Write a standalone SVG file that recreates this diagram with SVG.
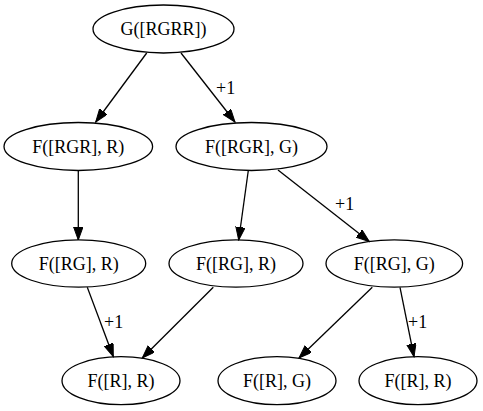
<svg xmlns="http://www.w3.org/2000/svg" width="483" height="411" viewBox="0 0 483 411">
<style>
.n ellipse{fill:none;stroke:#000;stroke-width:1.3}
text{font-family:"Liberation Serif","Times New Roman",serif;font-size:18px;fill:#000}
.n text{text-anchor:middle}
.e line{stroke:#000;stroke-width:1.3;marker-end:url(#a)}
</style>
<defs>
<marker id="a" markerUnits="userSpaceOnUse" markerWidth="14" markerHeight="10" refX="13" refY="4.7" orient="auto">
<path d="M0,0 L13,4.7 L0,9.4 Z" fill="#000" stroke="#000" stroke-width="1"/>
</marker>
</defs>
<rect width="483" height="411" fill="#fff"/>
<g id="edges" class="e">
<line x1="146.7" y1="53" x2="95.7" y2="122"/>
<line x1="181" y1="53" x2="235" y2="122"/>
<line x1="78.3" y1="170.5" x2="78.3" y2="240"/>
<line x1="248.3" y1="170.5" x2="238.7" y2="240"/>
<line x1="278" y1="170" x2="369.3" y2="241.5"/>
<line x1="87.3" y1="287.3" x2="113.3" y2="356.7"/>
<line x1="213.3" y1="287.3" x2="142.3" y2="358"/>
<line x1="372.3" y1="287.3" x2="299" y2="358"/>
<line x1="400" y1="287.3" x2="414" y2="356.7"/>
<text x="216" y="94">+1</text>
<text x="335" y="210">+1</text>
<text x="104" y="328">+1</text>
<text x="408" y="328">+1</text>
</g>
<g id="n0" class="n"><ellipse cx="163.5" cy="29" rx="70.5" ry="24"/><text x="163.5" y="35">G([RGRR])</text></g>
<g id="n1" class="n"><ellipse cx="78.3" cy="146.5" rx="74.3" ry="24"/><text x="78.3" y="152.5">F([RGR], R)</text></g>
<g id="n2" class="n"><ellipse cx="251.5" cy="146.5" rx="75.5" ry="24"/><text x="251.5" y="152.5">F([RGR], G)</text></g>
<g id="n3" class="n"><ellipse cx="78.7" cy="263.5" rx="67" ry="23.7"/><text x="78.7" y="269.5">F([RG], R)</text></g>
<g id="n4" class="n"><ellipse cx="236" cy="263.5" rx="67" ry="23.7"/><text x="236" y="269.5">F([RG], R)</text></g>
<g id="n5" class="n"><ellipse cx="394.3" cy="263.5" rx="68.3" ry="23.7"/><text x="394.3" y="269.5">F([RG], G)</text></g>
<g id="n6" class="n"><ellipse cx="121" cy="380.7" rx="59" ry="24"/><text x="121" y="386.7">F([R], R)</text></g>
<g id="n7" class="n"><ellipse cx="277" cy="380.7" rx="59" ry="24"/><text x="277" y="386.7">F([R], G)</text></g>
<g id="n8" class="n"><ellipse cx="418" cy="380.7" rx="59" ry="24"/><text x="418" y="386.7">F([R], R)</text></g>
</svg>
